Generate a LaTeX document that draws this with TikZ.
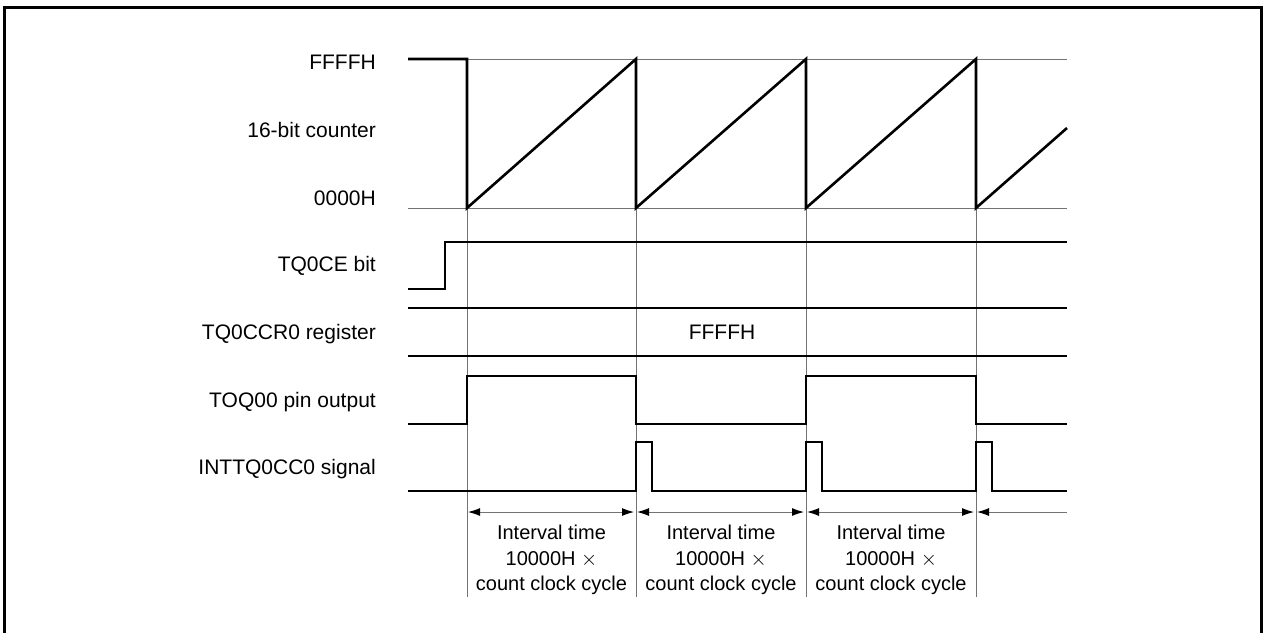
\documentclass[tikz,border=0pt]{standalone}
\usepackage{fontspec}
\setmainfont{Liberation Sans}
\usetikzlibrary{arrows.meta}
\begin{document}
\begin{tikzpicture}[x=1pt,y=-1pt,
  sig/.style={line width=2.6pt,line join=miter,line cap=butt},
  guide/.style={line width=1pt,draw=black!55},
  lbl/.style={anchor=base east,inner sep=0pt,font=\fontsize{21}{25}\selectfont},
  txt/.style={inner sep=0pt,font=\fontsize{20}{25.5}\selectfont,align=center},
  dim/.style={line width=1pt,draw=black!55},
  tipL/.style={{Latex[length=12pt,width=8pt,fill=black,color=black]}-},
  tipB/.style={{Latex[length=12pt,width=8pt,fill=black,color=black]}-{Latex[length=12pt,width=8pt,fill=black,color=black]}}
]
\useasboundingbox (0,0) rectangle (1264,633);
% frame
\draw[line width=3pt] (4.5,633) -- (4.5,7) -- (1261.5,7) -- (1261.5,633);

% guide lines
\draw[guide] (467,59) -- (1067,59);
\draw[guide] (408,208) -- (1067,208);
\foreach \x in {467,636,806,976} \draw[guide] (\x,59) -- (\x,597);

% labels (baseline = cap centre + 7.5)
\node[lbl] (lffff) at (376,69.5) {FFFFH};
\node[lbl] (lcnt) at (376,137.5) {16-bit counter};
\node[lbl] (l0000) at (376,205.5) {0000H};
\node[lbl] (lce) at (376,271.5) {TQ0CE bit};
\node[lbl] (lccr) at (376,339.5) {TQ0CCR0 register};
\node[lbl] (ltoq) at (376,407.5) {TOQ00 pin output};
\node[lbl] (lint) at (376,474.5) {INTTQ0CC0 signal};
\node[anchor=base,inner sep=0pt,font=\fontsize{21}{25}\selectfont] (vccr) at (722,339.5) {FFFFH};

% 16-bit counter
\draw[sig] (408,59) -- (467,59) -- (467,208) -- (636,59) -- (636,208) -- (806,59) -- (806,208) -- (976,59) -- (976,208) -- (1067,128);
% TQ0CE
\draw[sig] (408,289) -- (445,289) -- (445,242) -- (1067,242);
% TQ0CCR0
\draw[sig] (408,308) -- (1067,308);
\draw[sig] (408,356) -- (1067,356);
% TOQ00
\draw[sig] (408,424) -- (467,424) -- (467,376) -- (636,376) -- (636,424) -- (806,424) -- (806,376) -- (976,376) -- (976,424) -- (1067,424);
% INTTQ0CC0
\draw[sig] (408,491) -- (636,491) -- (636,442) -- (652,442) -- (652,491) -- (806,491) -- (806,442) -- (822,442) -- (822,491) -- (976,491) -- (976,442) -- (992,442) -- (992,491) -- (1067,491);

% interval arrows
\coordinate (a1) at (467,512);
\coordinate (a2) at (636,512);
\coordinate (a3) at (806,512);
\coordinate (a4) at (976,512);
\coordinate (a5) at (1067,512);
\draw[dim,tipB,shorten <=1pt,shorten >=2pt] (a1) -- (a2);
\draw[dim,tipB,shorten <=1pt,shorten >=2pt] (a2) -- (a3);
\draw[dim,tipB,shorten <=1pt,shorten >=2pt] (a3) -- (a4);
\draw[dim,tipL,shorten <=1pt] (a4) -- (a5);

% interval texts
\node[txt] (i1) at (551.5,560) {Interval time\\10000H $\times$\\count clock cycle};
\node[txt] (i2) at (721,560) {Interval time\\10000H $\times$\\count clock cycle};
\node[txt] (i3) at (891,560) {Interval time\\10000H $\times$\\count clock cycle};
\end{tikzpicture}
\end{document}
